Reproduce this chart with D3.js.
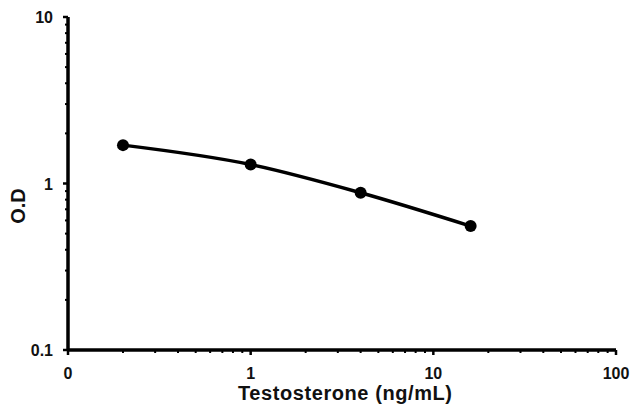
<!DOCTYPE html>
<html><head><meta charset="utf-8">
<script src="https://cdn.jsdelivr.net/npm/d3@7/dist/d3.min.js"></script>
<style>body{margin:0;background:#fff;}text{font-family:"Liberation Sans",Arial,sans-serif;font-weight:bold;fill:#111;}</style>
</head><body><svg id="c" width="632" height="410"></svg>
<script>
const conc = [0.2, 1, 4, 16];
const od = [1.70, 1.30, 0.88, 0.555];
const xTickVals = [0.1, 1, 10, 100];
const xTickLabels = ["0", "1", "10", "100"];
const yTickVals = [0.1, 1, 10];
const yTickLabels = ["0.1", "1", "10"];
const xTitle = "Testosterone (ng/mL)";
const yTitle = "O.D";

const svg = d3.select("#c");
const L = 68, R = 616, T = 17, B = 350;
const x = d3.scaleLog().domain([0.1, 100]).range([L, R]);
const y = d3.scaleLog().domain([0.1, 10]).range([B, T]);

function minors(lo, hi) {
  const out = [];
  for (let d = lo; d < hi; d *= 10) for (let k = 2; k <= 9; k++) out.push(d * k);
  return out;
}
const g = svg.append("g");
g.selectAll(".ym").data(minors(0.1, 10)).join("line")
  .attr("x1", L - 3).attr("x2", L).attr("y1", d => y(d)).attr("y2", d => y(d))
  .attr("stroke", "#000").attr("stroke-width", 2);
g.selectAll(".xm").data(minors(0.1, 100)).join("line")
  .attr("y1", B).attr("y2", B + 3).attr("x1", d => x(d)).attr("x2", d => x(d))
  .attr("stroke", "#000").attr("stroke-width", 2);
g.selectAll(".yM").data(yTickVals).join("line")
  .attr("x1", L - 5).attr("x2", L).attr("y1", d => y(d)).attr("y2", d => y(d))
  .attr("stroke", "#000").attr("stroke-width", 2.5);
g.selectAll(".xM").data(xTickVals).join("line")
  .attr("y1", B).attr("y2", B + 5).attr("x1", d => x(d)).attr("x2", d => x(d))
  .attr("stroke", "#000").attr("stroke-width", 2.5);
g.append("line").attr("x1", L).attr("x2", L).attr("y1", T).attr("y2", B + 1)
  .attr("stroke", "#000").attr("stroke-width", 3.5);
g.append("line").attr("x1", L - 1).attr("x2", R).attr("y1", B).attr("y2", B)
  .attr("stroke", "#000").attr("stroke-width", 3.5);
g.selectAll(".yl").data(yTickVals).join("text")
  .attr("x", L - 15).attr("y", d => y(d) + 6).attr("text-anchor", "end")
  .attr("font-size", 16).text((d, i) => yTickLabels[i]);
g.selectAll(".xl").data(xTickVals).join("text")
  .attr("x", d => x(d)).attr("y", B + 29).attr("text-anchor", "middle")
  .attr("font-size", 16).text((d, i) => xTickLabels[i]);
svg.append("text").attr("x", 345).attr("y", 400).attr("text-anchor", "middle")
  .attr("font-size", 20).attr("textLength", 214).attr("lengthAdjust", "spacing").text(xTitle);
svg.append("text").attr("transform", "translate(25,206) rotate(-90)").attr("text-anchor", "middle")
  .attr("font-size", 20).text(yTitle);
const pts = conc.map((c, i) => [c, od[i]]);
svg.append("path").datum(pts)
  .attr("d", d3.line().x(d => x(d[0])).y(d => y(d[1])).curve(d3.curveMonotoneX))
  .attr("fill", "none").attr("stroke", "#000").attr("stroke-width", 3.5);
svg.selectAll(".pt").data(pts).join("circle")
  .attr("cx", d => x(d[0])).attr("cy", d => y(d[1])).attr("r", 6).attr("fill", "#000");
</script></body></html>
